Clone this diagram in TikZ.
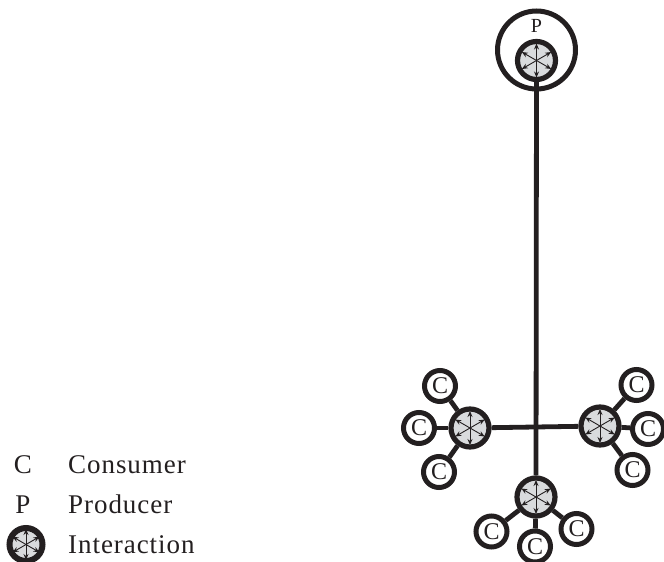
\documentclass[tikz,border=0pt]{standalone}
\usepackage{fontspec}
\setmainfont{Liberation Serif}
\newfontfamily\keyfont[LetterSpace=3.5]{Liberation Serif}
\usetikzlibrary{arrows.meta}
\definecolor{hubfill}{HTML}{D9DBDD}
\definecolor{ink}{HTML}{231F20}
\tikzset{
  hubnode/.style={circle,draw=ink,line width=5.2pt,fill=hubfill,minimum size=38pt,inner sep=0pt},
  keyhub/.style={hubnode,line width=6pt,minimum size=33pt},
  leafnode/.style={circle,draw=ink,line width=5pt,fill=white,minimum size=31pt,inner sep=0pt,font=\fontsize{24}{24}\selectfont,text=ink},
  prodring/.style={circle,draw=ink,line width=5pt,fill=white,minimum size=78pt,inner sep=0pt},
  link/.style={draw=ink,line width=4.8pt},
  spoke/.style={draw=ink,line width=0.9pt,{Stealth[length=6pt,width=5pt]}-{Stealth[length=6pt,width=5pt]}},
  lab/.style={anchor=base west,font=\keyfont\fontsize{27}{27}\selectfont,text=ink,inner sep=0pt},
  labsym/.style={anchor=base,font=\fontsize{27}{27}\selectfont,text=ink,inner sep=0pt}
}
\newcommand{\hubat}[3]{%
  \node[hubnode] (#1) at (#2,#3) {};
  \draw[spoke] (#1.center) ++(0,-17) -- ++(0,34);
  \draw[spoke] (#1.center) ++(14.7,-8.5) -- ++(-29.4,17);
  \draw[spoke] (#1.center) ++(-14.7,-8.5) -- ++(29.4,17);
}
\begin{document}
\begin{tikzpicture}[x=1pt,y=-1pt]
\useasboundingbox (0,0) rectangle (664,562);
\node[prodring] (ring) at (536.5,50) {};
\node[anchor=base,font=\fontsize{20}{20}\selectfont,text=ink,inner sep=0pt] (plabel) at (536.5,32.5) {P};
% hubs
\hubat{top}{536.5}{60.5}
\hubat{left}{470}{428}
\hubat{right}{600}{426}
\hubat{bottom}{536}{497}
% leaves
\node[leafnode] (l1) at (440,386) {C};
\node[leafnode] (l2) at (419,428) {C};
\node[leafnode] (l3) at (439,472) {C};
\node[leafnode] (r1) at (636.5,385) {C};
\node[leafnode] (r2) at (648,429) {C};
\node[leafnode] (r3) at (632.5,470) {C};
\node[leafnode] (b1) at (491.5,531.5) {C};
\node[leafnode] (b2) at (535,546.5) {C};
\node[leafnode] (b3) at (576.5,529) {C};
% connectors
\draw[link] (top) -- (bottom);
\draw[link] (left) -- (right);
\draw[link] (left) -- (l1);
\draw[link] (left) -- (l2);
\draw[link] (left) -- (l3);
\draw[link] (right) -- (r1);
\draw[link] (right) -- (r2);
\draw[link] (right) -- (r3);
\draw[link] (bottom) -- (b1);
\draw[link] (bottom) -- (b2);
\draw[link] (bottom) -- (b3);
% legend
\node[labsym] (kc) at (23,473) {C};
\node[lab] (kct) at (68,473) {Consumer};
\node[labsym] (kp) at (23,513) {P};
\node[lab] (kpt) at (68,513) {Producer};
\node[keyhub] (key) at (26,544.5) {};
\draw[spoke] (key.center) ++(0,-15.5) -- ++(0,31);
\draw[spoke] (key.center) ++(13.4,-7.8) -- ++(-26.8,15.6);
\draw[spoke] (key.center) ++(-13.4,-7.8) -- ++(26.8,15.6);
\node[lab] (kit) at (68,553) {Interaction};
\end{tikzpicture}
\end{document}
